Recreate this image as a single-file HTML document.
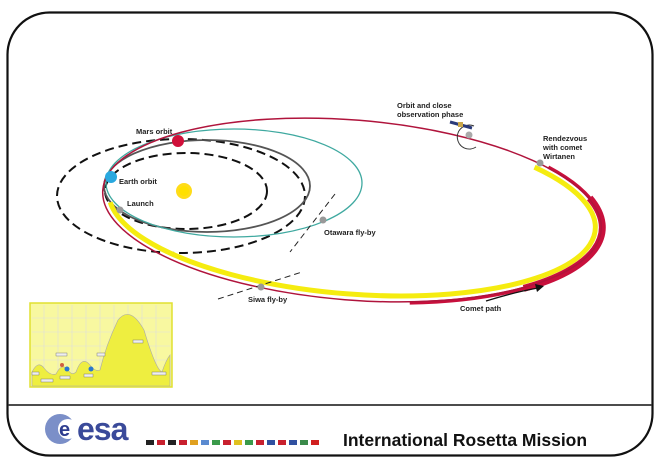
<!DOCTYPE html>
<html><head><meta charset="utf-8"><style>
html,body{margin:0;padding:0;background:#fff;}
svg{display:block;font-family:"Liberation Sans",sans-serif;}
</style></head><body>
<svg width="660" height="467" viewBox="0 0 660 467">
<rect x="7.5" y="12.5" width="645" height="443" rx="42" ry="42" fill="#fff" stroke="#111" stroke-width="2.2"/>
<line x1="8" y1="405" x2="652" y2="405" stroke="#333" stroke-width="1.8"/>

<!-- Sun -->
<circle cx="184" cy="191" r="8" fill="#ffd800" opacity="0.9"/>
<circle cx="184" cy="191" r="5" fill="#ffe000"/>

<!-- orbits -->
<ellipse cx="181" cy="196" rx="124" ry="57" fill="none" stroke="#111" stroke-width="2" stroke-dasharray="9,5"/>
<ellipse cx="186" cy="191" rx="81" ry="38" fill="none" stroke="#111" stroke-width="2" stroke-dasharray="9,5"/>
<ellipse cx="207" cy="186" rx="103" ry="46" fill="none" stroke="#555" stroke-width="1.8"/>
<ellipse cx="234" cy="183" rx="128" ry="54" fill="none" stroke="#3fa9a0" stroke-width="1.3"/>

<g transform="translate(352,210) rotate(4.6)">
  <path d="M178.5,-57.3 A244 84 0 1 1 -241.6 11.7" fill="none" stroke="#f5ec10" stroke-width="5"/>
  <path d="M192.3,-58.5 A251 91 0 0 1 65 87.9" fill="none" stroke="#c8103c" stroke-width="3.5"/>
  <path d="M235.9,-31.1 A251 91 0 0 1 177.5 64.3" fill="none" stroke="#c8103c" stroke-width="7"/>
  <ellipse cx="0" cy="0" rx="250" ry="90" fill="none" stroke="#b0143c" stroke-width="1.5"/>
</g>

<!-- fly-by dashed lines -->
<line x1="335" y1="194" x2="290" y2="252" stroke="#222" stroke-width="1" stroke-dasharray="6,4"/>
<line x1="218" y1="299" x2="302" y2="272" stroke="#222" stroke-width="1" stroke-dasharray="6,4"/>

<!-- dots -->
<circle cx="178" cy="141" r="6" fill="#d0103a"/>
<circle cx="111" cy="177" r="6" fill="#29a8df"/>
<circle cx="120" cy="210" r="3.5" fill="#999"/>
<circle cx="323" cy="220" r="3.5" fill="#999"/>
<circle cx="261" cy="287" r="3.5" fill="#999"/>
<circle cx="540" cy="163" r="3.5" fill="#999"/>

<!-- spacecraft -->
<g>
  <path d="M474 126 A12 12 0 1 0 476 147" fill="none" stroke="#333" stroke-width="1"/>
  <circle cx="469" cy="135" r="3.5" fill="#aaa"/>
  <line x1="450" y1="122" x2="472" y2="128" stroke="#2a3a7a" stroke-width="3"/>
  <rect x="458" y="122" width="5" height="5" fill="#c9a64a"/>
</g>

<!-- labels -->
<g font-size="7.5" font-weight="bold" fill="#222">
<text x="136" y="134">Mars orbit</text>
<text x="119" y="184">Earth orbit</text>
<text x="127" y="206">Launch</text>
<text x="324" y="235">Otawara fly-by</text>
<text x="248" y="302">Siwa fly-by</text>
<text x="397" y="108">Orbit and close</text>
<text x="397" y="117">observation phase</text>
<text x="543" y="141">Rendezvous</text>
<text x="543" y="150">with comet</text>
<text x="543" y="159">Wirtanen</text>
<text x="460" y="311">Comet path</text>
</g>
<path d="M486 301 Q515 292 538 288" fill="none" stroke="#111" stroke-width="1.3"/>
<polygon points="544,286 535,284 537,292" fill="#111"/>

<!-- inset chart -->
<rect x="30" y="303" width="142" height="84" fill="#f8f8a0" stroke="#e0e030" stroke-width="1.5"/>
<g stroke="#ddd" stroke-width="0.6">
<line x1="44" y1="305" x2="44" y2="385"/><line x1="58" y1="305" x2="58" y2="385"/><line x1="72" y1="305" x2="72" y2="385"/><line x1="86" y1="305" x2="86" y2="385"/><line x1="100" y1="305" x2="100" y2="385"/><line x1="114" y1="305" x2="114" y2="385"/><line x1="128" y1="305" x2="128" y2="385"/><line x1="142" y1="305" x2="142" y2="385"/><line x1="156" y1="305" x2="156" y2="385"/>
<line x1="32" y1="318" x2="170" y2="318"/><line x1="32" y1="332" x2="170" y2="332"/><line x1="32" y1="346" x2="170" y2="346"/><line x1="32" y1="360" x2="170" y2="360"/><line x1="32" y1="374" x2="170" y2="374"/>
</g>
<path d="M32 372 Q38 360 44 368 Q50 376 56 374 Q62 362 68 370 Q72 376 76 372 Q82 355 90 365 Q95 372 100 370 Q106 345 118 320 Q130 305 144 330 Q156 370 162 372 Q166 360 170 355 L170 386 L32 386 Z" fill="#eeee40" stroke="#aaa" stroke-width="0.6"/>
<circle cx="67" cy="369" r="2.5" fill="#2a78d0"/><circle cx="91" cy="369" r="2.5" fill="#2a78d0"/><circle cx="62" cy="365" r="2" fill="#d06040"/>
<g fill="#eee" stroke="#666" stroke-width="0.4">
<rect x="56" y="353" width="11" height="3"/><rect x="97" y="353" width="8" height="3"/><rect x="133" y="340" width="10" height="3"/><rect x="32" y="372" width="7" height="3"/><rect x="41" y="379" width="12" height="3"/><rect x="60" y="376" width="10" height="3"/><rect x="84" y="374" width="9" height="3"/><rect x="152" y="372" width="14" height="3"/>
</g>

<!-- esa logo -->
<circle cx="60" cy="429" r="15" fill="#7b8fc8"/>
<circle cx="68" cy="429" r="10" fill="#fff"/>
<text x="59" y="436" font-size="20" font-weight="bold" fill="#2e3d8f">e</text>
<text x="77" y="440" font-size="32" font-weight="bold" fill="#3a4a9a" letter-spacing="-1">esa</text>
<g>
<rect x="146" y="440" width="8" height="5" fill="#222"/><rect x="157" y="440" width="8" height="5" fill="#c8202e"/><rect x="168" y="440" width="8" height="5" fill="#222"/><rect x="179" y="440" width="8" height="5" fill="#c8202e"/><rect x="190" y="440" width="8" height="5" fill="#e0a020"/><rect x="201" y="440" width="8" height="5" fill="#5a8ad0"/><rect x="212" y="440" width="8" height="5" fill="#3a9a4a"/><rect x="223" y="440" width="8" height="5" fill="#c8202e"/><rect x="234" y="440" width="8" height="5" fill="#e0c020"/><rect x="245" y="440" width="8" height="5" fill="#3a9a4a"/><rect x="256" y="440" width="8" height="5" fill="#c8202e"/><rect x="267" y="440" width="8" height="5" fill="#3050a0"/><rect x="278" y="440" width="8" height="5" fill="#c8202e"/><rect x="289" y="440" width="8" height="5" fill="#3050a0"/><rect x="300" y="440" width="8" height="5" fill="#3a8a4a"/><rect x="311" y="440" width="8" height="5" fill="#d02020"/>
</g>
<text x="343" y="446" font-size="17.5" font-weight="bold" fill="#111">International Rosetta Mission</text>
</svg>
</body></html>
